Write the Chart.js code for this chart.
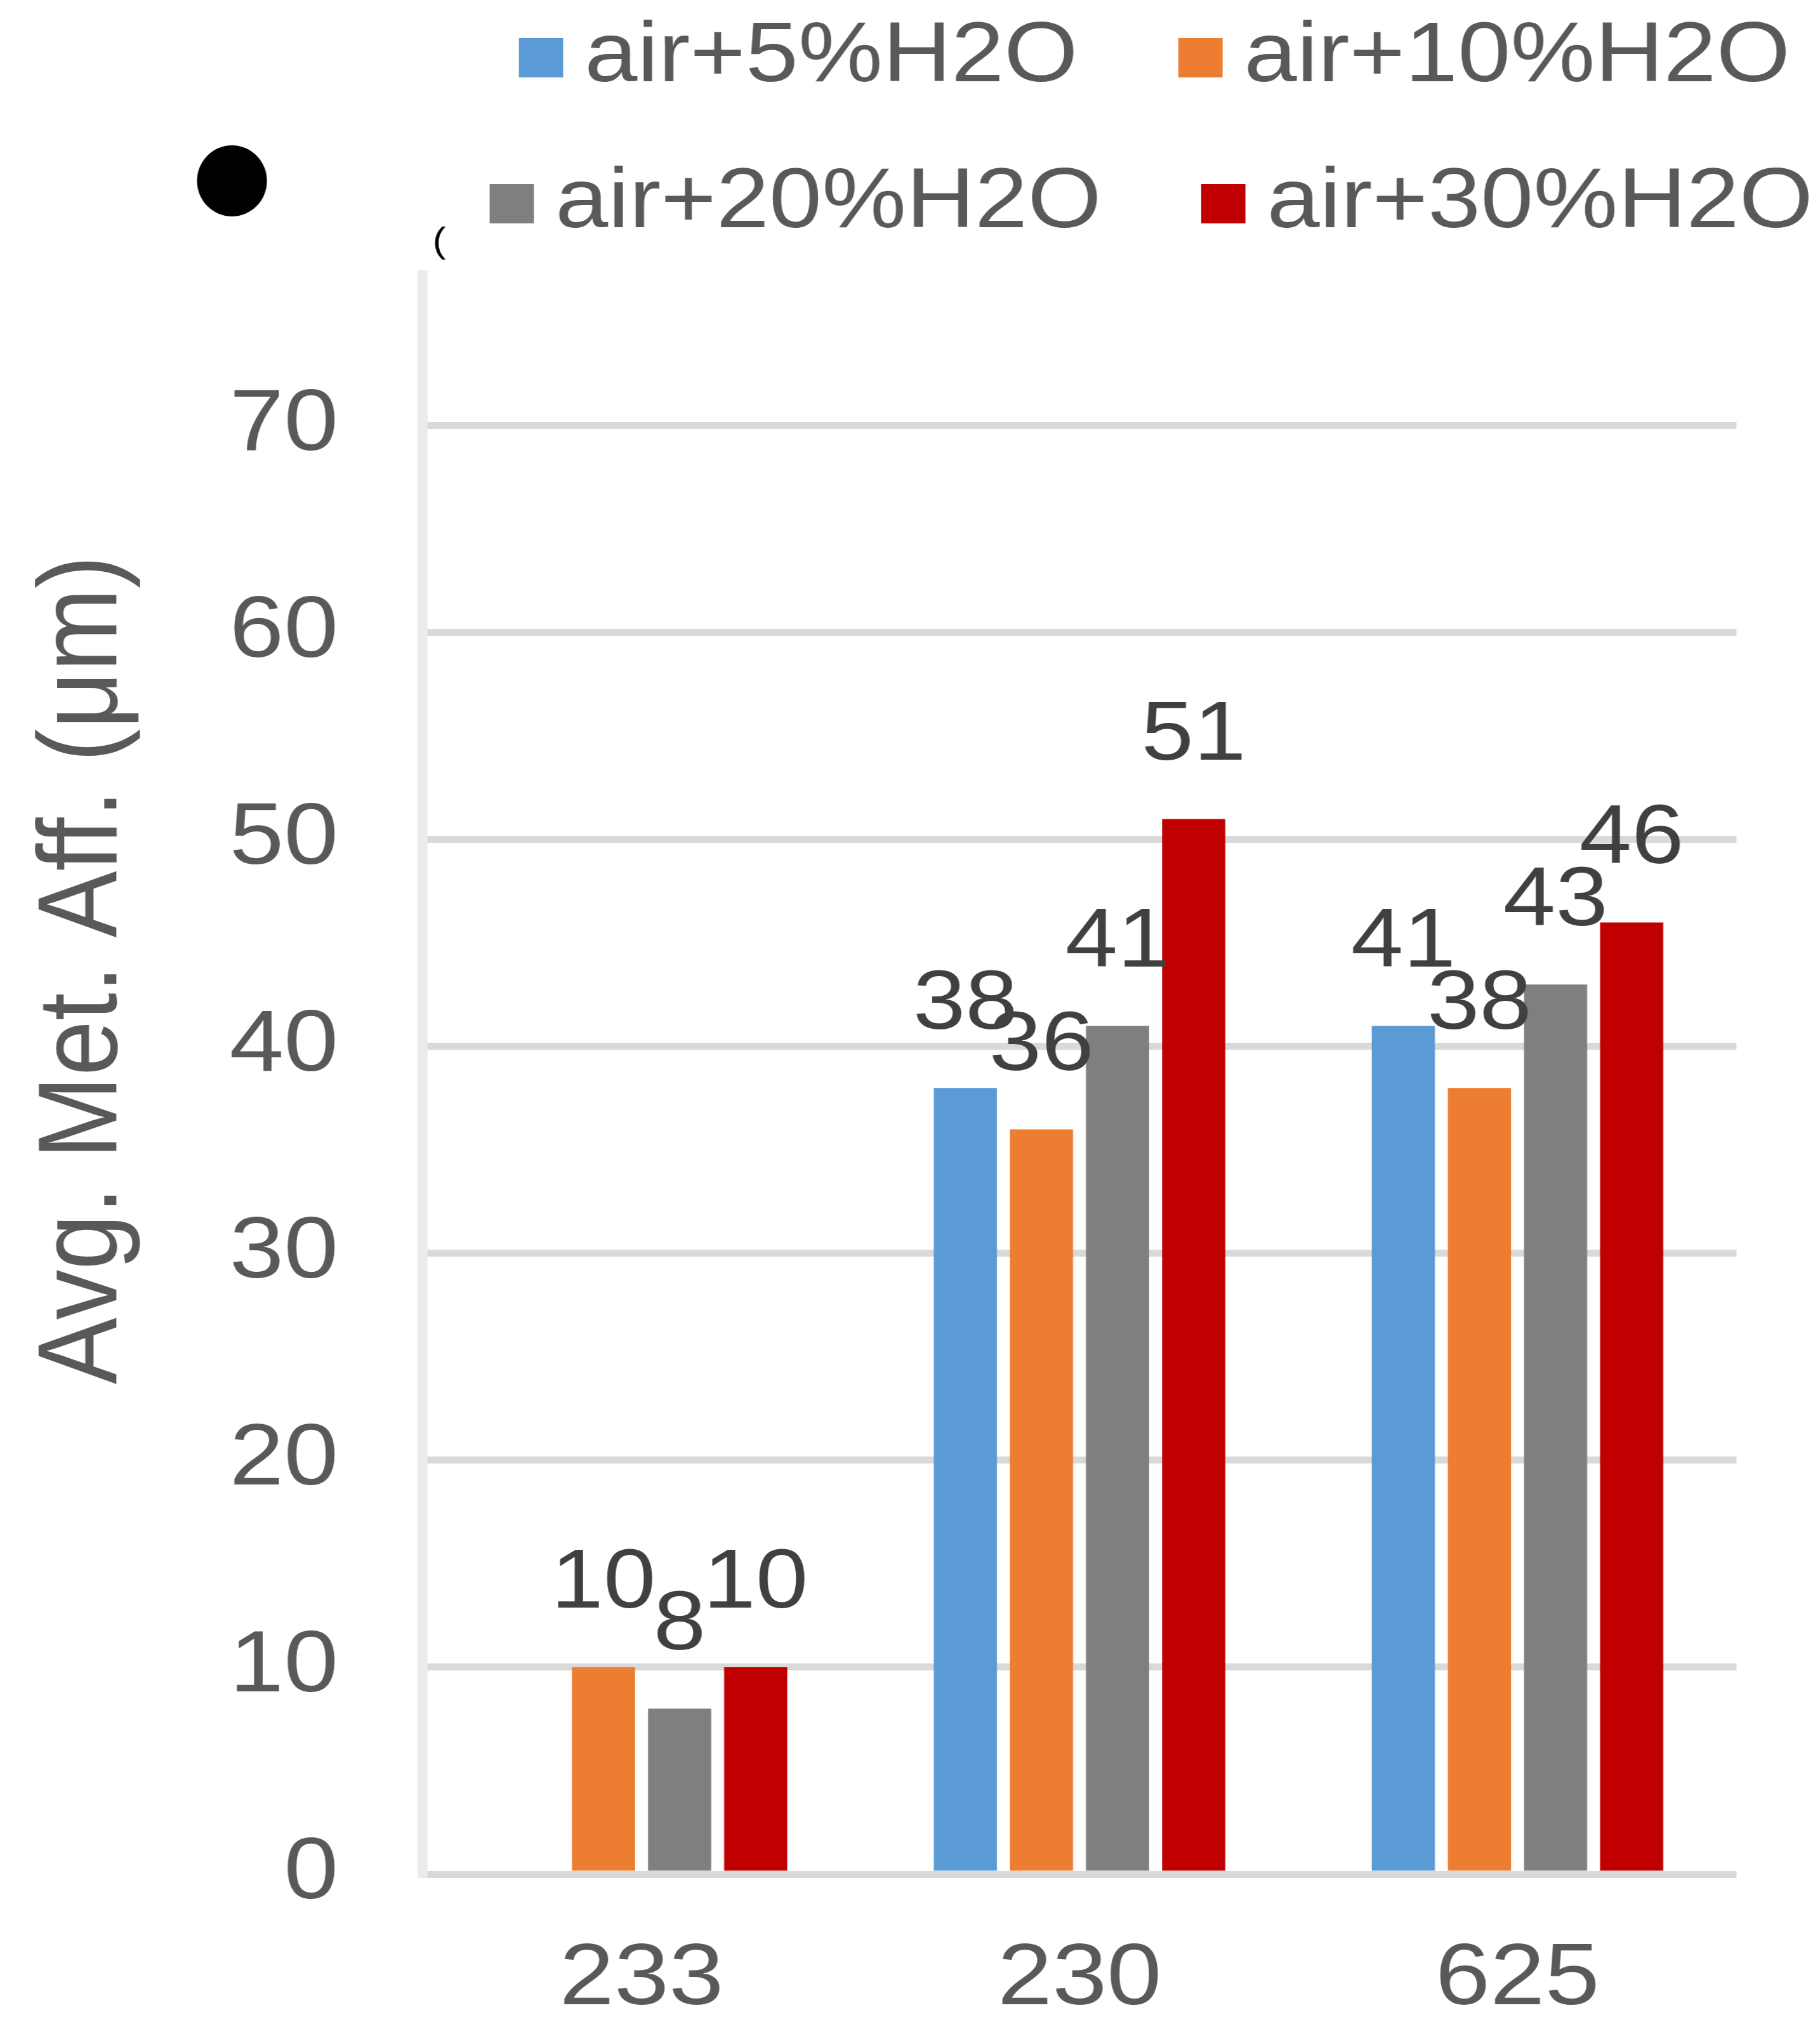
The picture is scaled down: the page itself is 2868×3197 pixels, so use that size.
<!DOCTYPE html>
<html>
<head>
<meta charset="utf-8">
<script src="https://cdn.jsdelivr.net/npm/chart.js"></script>
<style>
  html, body { margin: 0; padding: 0; background: #fff; overflow: hidden; }
  /* the source picture is stretched sideways, so draw it narrower and stretch it back */
  #wrap { width: 2550px; height: 3197px; transform: scaleX(1.1247); transform-origin: 0 0; }
</style>
</head>
<body>
<div id="wrap"><canvas id="myChart"></canvas></div>
<script>
// data
var categories = ['233', '230', '625'];
var seriesNames = ['air+5%H2O', 'air+10%H2O', 'air+20%H2O', 'air+30%H2O'];
var air5 = [null, 38, 41];
var air10 = [10, 36, 38];
var air20 = [8, 41, 43];
var air30 = [10, 51, 46];
var yTicks = [0, 10, 20, 30, 40, 50, 60, 70];
var yTitle = 'Avg. Met. Aff. (μm)';

var colors = ['#5B9BD5', '#ED7D31', '#7F7F7F', '#C00000'];
var FONT = '"Liberation Sans", Arial, sans-serif';
var TEXT = '#595959';

// legend spots: box left edge, row middle
var legendPos = [[727, 91], [1651, 91], [686, 321], [1683, 321]];

var extras = {
    id: 'extras',
    afterDatasetsDraw: function(chart) {
        var ctx = chart.ctx;
        ctx.save();
        // value labels above bars
        ctx.font = '132px ' + FONT;
        ctx.fillStyle = '#404040';
        ctx.textAlign = 'center';
        ctx.textBaseline = 'middle';
        chart.data.datasets.forEach(function(ds, i) {
            chart.getDatasetMeta(i).data.forEach(function(bar, j) {
                if (ds.data[j] == null) return;
                ctx.fillText(ds.data[j], bar.x, bar.y - 130);
            });
        });
        ctx.restore();
    },
    afterDraw: function(chart) {
        var ctx = chart.ctx;
        ctx.save();
        // legend, two per row
        ctx.font = '133px ' + FONT;
        ctx.textAlign = 'left';
        ctx.textBaseline = 'middle';
        chart.data.datasets.forEach(function(ds, i) {
            var p = legendPos[i];
            ctx.fillStyle = ds.backgroundColor;
            ctx.fillRect(p[0], p[1] - 31, 62, 62);
            ctx.fillStyle = TEXT;
            ctx.fillText(ds.label, p[0] + 92, p[1]);
        });
        // y axis title
        ctx.save();
        ctx.translate(120, 1528);
        ctx.rotate(-Math.PI / 2);
        ctx.font = '157px ' + FONT;
        ctx.textAlign = 'center';
        ctx.fillStyle = TEXT;
        ctx.fillText(yTitle, 0, 0);
        ctx.restore();
        // stray marks in the source image
        ctx.fillStyle = '#000';
        ctx.beginPath();
        ctx.ellipse(325, 285, 49, 56, 0, 0, Math.PI * 2);
        ctx.fill();
        ctx.font = '56px ' + FONT;
        ctx.textBaseline = 'alphabetic';
        ctx.fillText('(', 606, 397);
        ctx.restore();
    }
};

var series = [air5, air10, air20, air30];
var ctx = document.getElementById('myChart').getContext('2d');
var myChart = new Chart(ctx, {
    type: 'bar',
    data: {
        labels: categories,
        datasets: seriesNames.map(function(name, i) {
            return {
                label: name,
                data: series[i],
                backgroundColor: colors[i],
                borderWidth: 0,
                categoryPercentage: 0.695,
                barPercentage: 0.83
            };
        })
    },
    options: {
        responsive: true,
        maintainAspectRatio: false,
        animation: false,
        layout: { padding: { left: 41, right: 117, top: 433, bottom: 0 } },
        plugins: {
            legend: { display: false },
            tooltip: { enabled: false }
        },
        scales: {
            x: {
                grid: { display: false },
                border: { display: false },
                ticks: {
                    color: TEXT,
                    font: { family: FONT, size: 138 },
                    padding: 76,
                    maxRotation: 0,
                    autoSkip: false
                },
                afterFit: function(s) { s.height = 244; }
            },
            y: {
                min: 0,
                max: 77.3,
                grid: { color: '#d9d9d9', lineWidth: 11, drawTicks: false },
                border: { color: '#ebebeb', width: 14 },
                ticks: {
                    color: TEXT,
                    font: { family: FONT, size: 137 },
                    padding: 118
                },
                afterBuildTicks: function(s) {
                    s.ticks = yTicks.map(function(v) { return { value: v }; });
                },
                afterFit: function(s) { s.width = 551; }
            }
        }
    },
    plugins: [extras]
});
</script>
</body>
</html>
